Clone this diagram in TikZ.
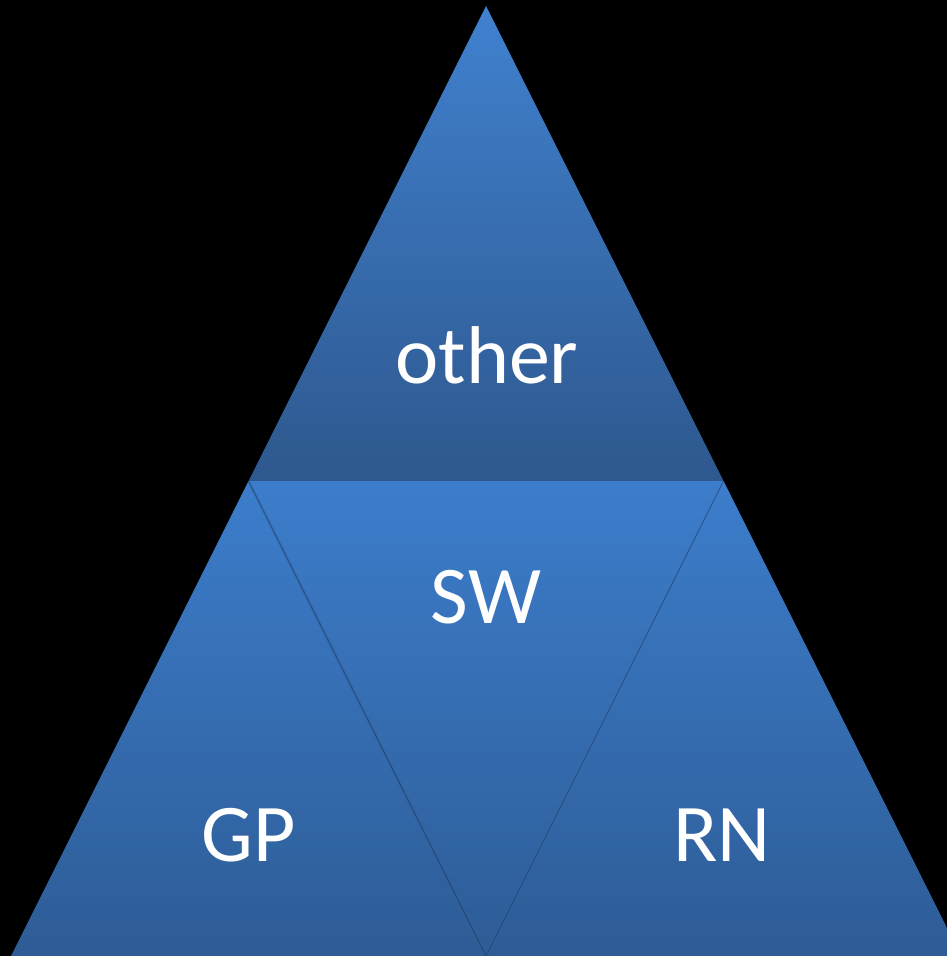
\documentclass[tikz,border=0pt]{standalone}
\usepackage{fontspec}
\setmainfont{Carlito}
\begin{document}
\begin{tikzpicture}[x=1pt,y=-1pt,
  lbl/.style={text=white,font=\fontsize{82}{90}\selectfont,anchor=base,inner sep=0pt},
  tri/.style={top color=topblue,bottom color=botblue,draw=none},
  edgeshadow/.style={draw=shadowblue,line width=1.6pt,opacity=0.6}]
\definecolor{topblue}{RGB}{60,125,203}
\definecolor{botblue}{RGB}{46,92,150}
\definecolor{uptop}{RGB}{64,129,207}
\definecolor{upbot}{RGB}{46,88,142}
\definecolor{shadowblue}{RGB}{38,72,118}
\fill[black] (0,0) rectangle (947,956);
\useasboundingbox (0,0) rectangle (947,956);
\clip (0,0) rectangle (947,956);
\coordinate (A) at (486,6);
\coordinate (L) at (248.5,481);
\coordinate (R) at (723.5,481);
\coordinate (BL) at (11,956);
\coordinate (BM) at (486,956);
\coordinate (BR) at (961,956);
% top triangle
\path[top color=uptop,bottom color=upbot] (A) -- (R) -- (L) -- cycle;
% bottom left and right
\path[tri] (L) -- (BM) -- (BL) -- cycle;
\path[tri] (R) -- (BR) -- (BM) -- cycle;
% middle inverted
\path[tri] (L) -- (R) -- (BM) -- cycle;
\draw[edgeshadow] (L) -- (BM);
\draw[edgeshadow,line width=1pt] (R) -- (BM);
\node[lbl] (other) at (487,383) {other};
\node[lbl] (sw) at (486,623) {SW};
\node[lbl] (gp) at (249,861) {GP};
\node[lbl] (rn) at (722,861) {RN};
\end{tikzpicture}
\end{document}
